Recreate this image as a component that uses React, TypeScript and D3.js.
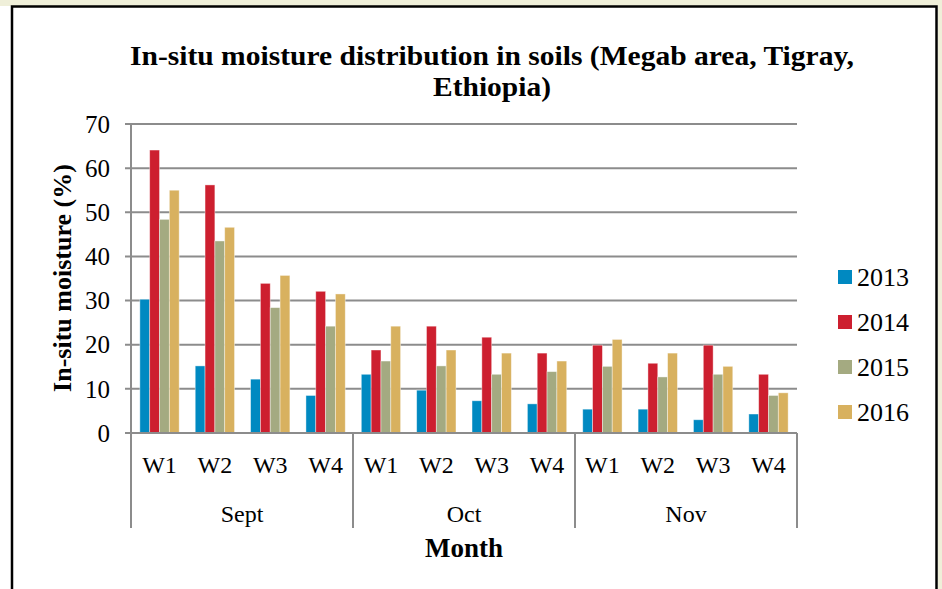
import React from "react";
import * as d3 from "d3";

const months = ["Sept", "Oct", "Nov"];
const weeks = ["W1", "W2", "W3", "W4"];
const seriesNames = ["2013", "2014", "2015", "2016"];
const colors = ["#0089c1", "#cd1f2f", "#a4aa81", "#d8b15f"];
const v2013 = [30.3, 15.2, 12.2, 8.5, 13.3, 9.7, 7.3, 6.6, 5.4, 5.4, 3.0, 4.3];
const v2014 = [64.1, 56.2, 33.9, 32.1, 18.8, 24.2, 21.7, 18.1, 19.9, 15.8, 19.9, 13.3];
const v2015 = [48.4, 43.5, 28.4, 24.2, 16.3, 15.2, 13.3, 13.9, 15.1, 12.7, 13.3, 8.5];
const v2016 = [55.0, 46.6, 35.7, 31.5, 24.2, 18.8, 18.1, 16.3, 21.2, 18.1, 15.1, 9.1];
const yTicks = [0, 10, 20, 30, 40, 50, 60, 70];

const series = [v2013, v2014, v2015, v2016];

export default function App() {
  const W = 942, H = 589;
  const left = 131, right = 797, top = 124, bottom = 433;
  const cats = months.flatMap((m) => weeks.map((w) => m + "-" + w));
  const x = d3.scaleBand<string>().domain(cats).range([left, right]).paddingInner(0.29).paddingOuter(0.16);
  const xs = d3.scaleBand<string>().domain(seriesNames).range([0, x.bandwidth()]);
  const y = d3.scaleLinear().domain([0, 70]).range([bottom, top]);
  const monthX = d3.scaleBand<string>().domain(months).range([left, right]);
  const font = "'Liberation Serif', 'Times New Roman', serif";
  const grid = "#8c8c8c";

  return (
    <svg width={W} height={H} style={{ position: "absolute", left: 0, top: 0 }} fontFamily={font}>
      <rect x={0} y={0} width={W} height={H} fill="#ffffff" />
      <rect x={0} y={0} width={W} height={6} fill="#efefd9" />
      <rect x={938} y={0} width={4} height={H} fill="#efefd9" />
      <rect x={12} y={6.5} width={924.5} height={H + 10} fill="#ffffff" stroke="#000" strokeWidth={2.5} />

      <text x={492} y={65} textAnchor="middle" fontWeight="bold" fontSize={27} textLength={724} lengthAdjust="spacingAndGlyphs">
        In-situ moisture distribution in soils (Megab area, Tigray,
      </text>
      <text x={492} y={96} textAnchor="middle" fontWeight="bold" fontSize={27} textLength={118} lengthAdjust="spacingAndGlyphs">
        Ethiopia)
      </text>

      {yTicks.map((t) => (
        <g key={t}>
          <line x1={125} x2={right} y1={y(t)} y2={y(t)} stroke={grid} strokeWidth={2} />
          <text x={110} y={y(t)} dy="0.35em" textAnchor="end" fontSize={25}>{t}</text>
        </g>
      ))}
      <line x1={left} x2={left} y1={top} y2={bottom} stroke={grid} strokeWidth={2} />

      {cats.map((c, i) =>
        series.map((s, j) => (
          <rect
            key={c + j}
            x={(x(c) as number) + (xs(seriesNames[j]) as number)}
            y={y(s[i])}
            width={xs.bandwidth()}
            height={bottom - y(s[i])}
            fill={colors[j]}
            stroke="#ffffff"
            strokeOpacity={0.5}
            strokeWidth={0.8}
          />
        ))
      )}

      <line x1={125} x2={right} y1={bottom} y2={bottom} stroke={grid} strokeWidth={2} />
      {[...months.map((m) => monthX(m) as number), right].map((xv, i) => (
        <line key={i} x1={xv} x2={xv} y1={bottom} y2={528} stroke={grid} strokeWidth={2} />
      ))}
      {cats.map((c, i) => (
        <text key={c} x={(x(c) as number) + x.bandwidth() / 2} y={473} textAnchor="middle" fontSize={24}>
          {weeks[i % 4]}
        </text>
      ))}
      {months.map((m) => (
        <text key={m} x={(monthX(m) as number) + monthX.bandwidth() / 2} y={522} textAnchor="middle" fontSize={24}>
          {m}
        </text>
      ))}
      <text x={464} y={557} textAnchor="middle" fontWeight="bold" fontSize={27}>Month</text>
      <text transform={`translate(71,${278}) rotate(-90)`} textAnchor="middle" fontWeight="bold" fontSize={26}>
        In-situ moisture (%)
      </text>

      {seriesNames.map((n, j) => (
        <g key={n} transform={`translate(838,${277 + j * 45})`}>
          <rect x={0} y={-7} width={14} height={14} fill={colors[j]} />
          <text x={19} y={0} dy="0.35em" fontSize={26}>{n}</text>
        </g>
      ))}
    </svg>
  );
}
